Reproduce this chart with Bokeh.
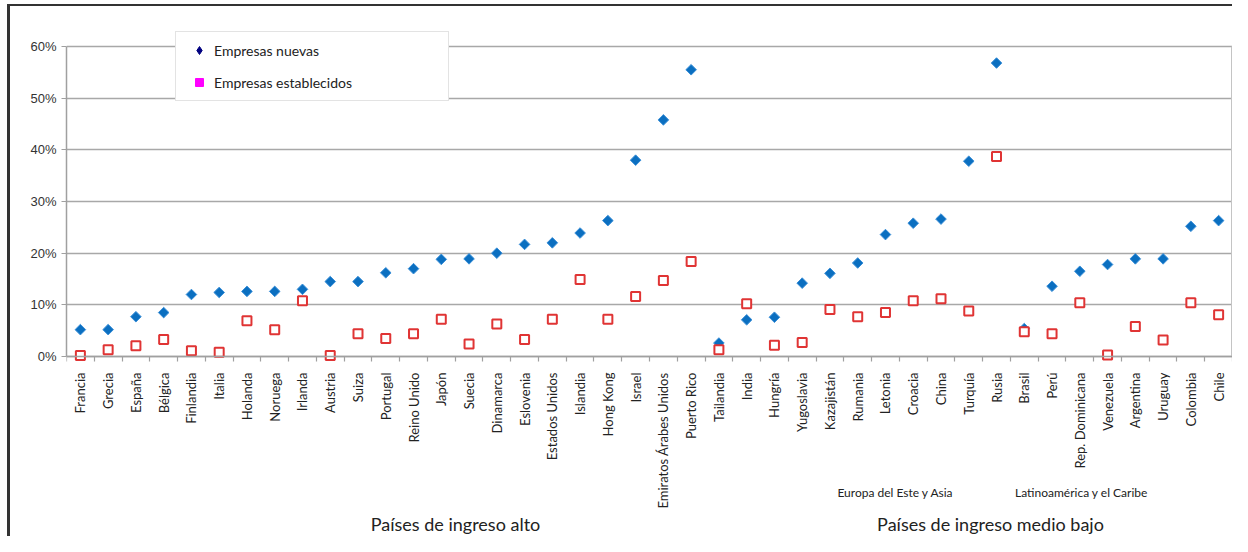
import math
from bokeh.plotting import figure
from bokeh.models import (Range1d, FixedTicker, PrintfTickFormatter, Legend, LegendItem,
                          Label, ColumnDataSource)
from bokeh.embed import file_html
from bokeh.resources import INLINE

categories = ["Francia", "Grecia", "España", "Bélgica", "Finlandia", "Italia", "Holanda",
              "Noruega", "Irlanda", "Austria", "Suiza", "Portugal", "Reino Unido", "Japón",
              "Suecia", "Dinamarca", "Eslovenia", "Estados Unidos", "Islandia", "Hong Kong",
              "Israel", "Emiratos Árabes Unidos", "Puerto Rico", "Tailandia", "India",
              "Hungría", "Yugoslavia", "Kazajistán", "Rumania", "Letonia", "Croacia", "China",
              "Turquía", "Rusia", "Brasil", "Perú", "Rep. Dominicana", "Venezuela",
              "Argentina", "Uruguay", "Colombia", "Chile"]

nuevas = [5.2, 5.2, 7.7, 8.5, 12.0, 12.4, 12.6, 12.6, 13.0, 14.5, 14.5, 16.2, 17.0, 18.8,
          18.9, 20.0, 21.7, 22.0, 23.9, 26.3, 38.0, 45.8, 55.5, 2.6, 7.1, 7.6, 14.2, 16.1,
          18.1, 23.6, 25.8, 26.6, 37.8, 56.8, 5.4, 13.6, 16.5, 17.8, 18.9, 18.9, 25.2, 26.3]

establecidas = [0.2, 1.3, 2.1, 3.3, 1.1, 0.8, 6.9, 5.2, 10.8, 0.2, 4.4, 3.5, 4.4, 7.2,
                2.4, 6.3, 3.3, 7.2, 14.9, 7.2, 11.6, 14.7, 18.4, 1.3, 10.2, 2.2, 2.7, 9.1,
                7.7, 8.5, 10.8, 11.2, 8.8, 38.7, 4.8, 4.4, 10.4, 0.3, 5.8, 3.2, 10.4, 8.1]

y_ticks = [0, 10, 20, 30, 40, 50, 60]
series_names = ["Empresas nuevas", "Empresas establecidos"]
group_labels = ["Europa del Este y Asia", "Latinoamérica y el Caribe"]
income_labels = ["Países de ingreso alto", "Países de ingreso medio bajo"]

FONT = "Lato"
n = len(categories)
xs = list(range(n))

W, H = 1232, 536
LEFT, TOP = 66, 30
p = figure(width=W, height=H, output_backend="svg", toolbar_location=None,
           x_range=Range1d(-0.5, n - 0.5), y_range=Range1d(-34.84, 63.1),
           min_border_left=LEFT, min_border_right=0, min_border_top=TOP, min_border_bottom=0)
p.outline_line_color = None
p.background_fill_color = "white"
p.border_fill_color = None
p.styles = {"box-shadow": "inset 7px 4px 0 0 white, inset 10px 6px 0 0 #333333",
            "background-color": "white"}

# grid
p.xgrid.grid_line_color = None
p.ygrid.grid_line_color = "#a8a8a8"
p.ygrid.grid_line_width = 1.5

# y axis
p.yaxis.ticker = FixedTicker(ticks=y_ticks)
p.yaxis.bounds = (0, 60)
p.yaxis.formatter = PrintfTickFormatter(format="%d%%")
p.yaxis.axis_line_color = "#a0a0a0"
p.yaxis.axis_line_width = 1.5
p.yaxis.major_tick_line_color = "#a0a0a0"
p.yaxis.major_tick_out = 5
p.yaxis.major_tick_in = 0
p.yaxis.minor_tick_line_color = None
p.yaxis.major_label_standoff = 5
p.yaxis.major_label_text_font = "Liberation Sans"
p.yaxis.major_label_text_font_size = "13px"
p.yaxis.major_label_text_color = "#333333"

# x axis drawn on the 0% line
p.xaxis.fixed_location = 0
p.xaxis.ticker = FixedTicker(ticks=xs, minor_ticks=[i - 0.5 for i in range(n + 1)])
p.xaxis.major_label_overrides = {i: c for i, c in zip(xs, categories)}
p.xaxis.major_label_orientation = math.pi / 2
p.xaxis.axis_line_color = "#a0a0a0"
p.xaxis.axis_line_width = 1.5
p.xaxis.major_tick_line_color = None
p.xaxis.major_tick_out = 0
p.xaxis.major_tick_in = 0
p.xaxis.minor_tick_line_color = "#a0a0a0"
p.xaxis.minor_tick_line_width = 1.2
p.xaxis.minor_tick_in = 0
p.xaxis.minor_tick_out = 5
p.xaxis.major_label_standoff = 11
p.xaxis.major_label_text_font = FONT
p.xaxis.major_label_text_font_size = "13px"
p.xaxis.major_label_text_color = "#222222"

# right border of the plotting area
p.segment(x0=[n - 0.5], y0=[0], x1=[n - 0.5], y1=[60], line_color="#c4c4c4", line_width=3)

# data
src = ColumnDataSource(dict(x=xs, nuevas=nuevas, est=establecidas))
p.scatter("x", "nuevas", source=src, marker="square", angle=math.pi / 4, size=7.5,
          fill_color="#0b6fc0", line_color="#3a8fd8", line_width=1)
p.scatter("x", "est", source=src, marker="square", size=9,
          fill_color="white", line_color="#e03434", line_width=2)

# legend with its own glyph styles
nan = float("nan")
r_leg1 = p.scatter(x=[nan], y=[nan], marker="diamond", fill_color="#000080",
                   line_color="#000080")
r_leg2 = p.scatter(x=[nan], y=[nan], marker="square", fill_color="#ff00ff",
                   line_color="#ff00ff")
legend = Legend(items=[LegendItem(label=series_names[0], renderers=[r_leg1]),
                       LegendItem(label=series_names[1], renderers=[r_leg2])],
                location=(175 - LEFT, H - 101), padding=8, spacing=12, glyph_width=30,
                glyph_height=20, label_height=20, label_standoff=0, label_width=226,
                label_text_font=FONT, label_text_font_size="14px", label_text_color="#222222",
                border_line_color="#c8c8c8", border_line_width=1,
                background_fill_color="white", background_fill_alpha=1, margin=0)
p.add_layout(legend, "center")

# group labels below the axis
for txt, cx, cy, fs in [(group_labels[0], 895, 492, "12px"),
                        (group_labels[1], 1081, 492, "12px"),
                        (income_labels[0], 455, 523, "18px"),
                        (income_labels[1], 990, 523, "18px")]:
    p.add_layout(Label(x=cx - LEFT, y=H - cy, x_units="screen", y_units="screen", text=txt,
                       text_align="center", text_baseline="middle", text_font=FONT,
                       text_font_size=fs, text_color="#222222"))

open("out.html", "w").write(file_html(p, INLINE))
